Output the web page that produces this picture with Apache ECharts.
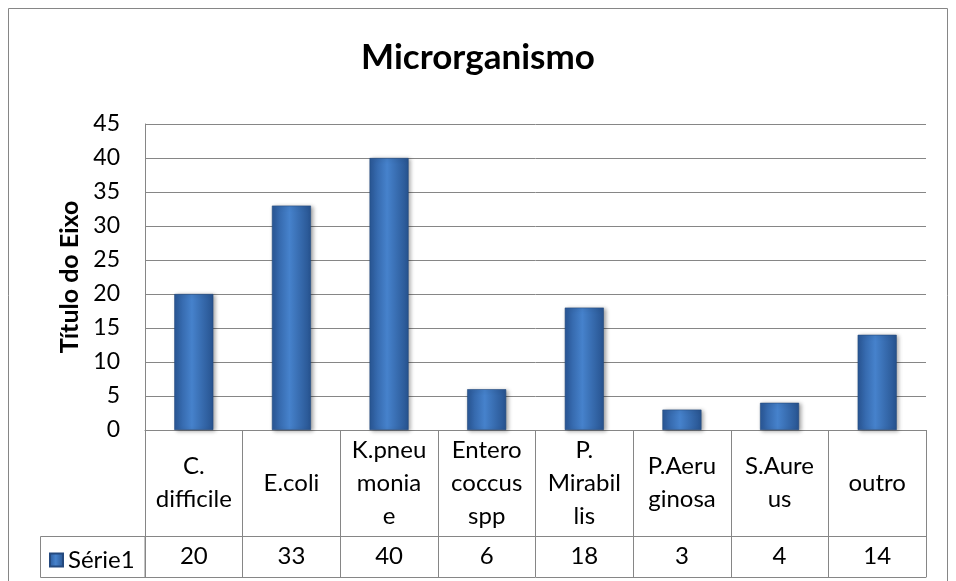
<!DOCTYPE html>
<html>
<head>
<meta charset="utf-8">
<script src="https://cdn.jsdelivr.net/npm/echarts@6/dist/echarts.min.js"></script>
<style>
  html, body { margin: 0; padding: 0; background: #fff; }
  #chart { width: 956px; height: 581px; }
</style>
</head>
<body>
<div id="chart"></div>
<script>
// rótulos das categorias (quebrados como na tabela de dados do Excel)
const categories = ['C.\ndifficile', 'E.coli', 'K.pneu\nmonia\ne', 'Entero\ncoccus\nspp',
  'P.\nMirabil\nlis', 'P.Aeru\nginosa', 'S.Aure\nus', 'outro'];
const serie1 = [20, 33, 40, 6, 18, 3, 4, 14];
const yTicks = { min: 0, max: 45, interval: 5 };

const FONT = 'Lato, "Liberation Sans", sans-serif';
const LINE = '#868686';

const barColor = new echarts.graphic.LinearGradient(0, 0, 1, 0, [
  { offset: 0, color: '#2a5898' },
  { offset: 0.45, color: '#4682cc' },
  { offset: 1, color: '#27538f' }
]);

const chart = echarts.init(document.getElementById('chart'));

chart.setOption({
  backgroundColor: '#fff',
  animation: false,
  textStyle: { fontFamily: FONT },
  title: {
    text: 'Microrganismo',
    left: 'center',
    top: 35,
    textStyle: { fontFamily: FONT, fontSize: 35, fontWeight: 'bold', color: '#000' }
  },
  legend: {
    data: ['Série1'],
    left: 44,
    top: 543,
    icon: 'rect',
    itemWidth: 13,
    itemHeight: 13,
    itemGap: 4,
    textStyle: { fontFamily: FONT, fontSize: 24, color: '#000' }
  },
  grid: { left: 145, right: 30, top: 124, bottom: 151 },
  xAxis: [
    {
      type: 'category',
      data: categories,
      axisLine: { lineStyle: { color: LINE } },
      axisTick: { show: true, interval: 0, length: 147, lineStyle: { color: LINE } },
      axisLabel: {
        interval: 0, margin: 53, verticalAlign: 'middle', align: 'center',
        fontSize: 24, lineHeight: 33, color: '#000', fontFamily: FONT
      }
    },
    {
      // linha de valores da tabela de dados
      type: 'category',
      data: categories,
      position: 'bottom',
      offset: 106,
      axisLine: { show: true, lineStyle: { color: LINE } },
      axisTick: { show: false },
      axisLabel: {
        interval: 0, margin: 20, verticalAlign: 'middle',
        fontSize: 24, color: '#000', fontFamily: FONT,
        formatter: (v, i) => String(serie1[i])
      }
    },
    {
      type: 'category',
      data: categories,
      position: 'bottom',
      offset: 147,
      axisLine: { show: true, lineStyle: { color: LINE } },
      axisTick: { show: false },
      axisLabel: { show: false }
    }
  ],
  yAxis: {
    type: 'value',
    min: yTicks.min,
    max: yTicks.max,
    interval: yTicks.interval,
    name: 'Título do Eixo',
    nameLocation: 'middle',
    nameGap: 62,
    nameTextStyle: { fontFamily: FONT, fontSize: 25, fontWeight: 'bold', color: '#000' },
    axisLine: { show: true, lineStyle: { color: LINE } },
    axisTick: { show: false },
    axisLabel: { margin: 25, fontSize: 23, color: '#000', fontFamily: FONT },
    splitLine: { lineStyle: { color: LINE } }
  },
  series: [{
    name: 'Série1',
    type: 'bar',
    data: serie1,
    barWidth: '40%',
    itemStyle: {
      color: barColor,
      borderColor: '#24497e',
      borderWidth: 0.6,
      shadowColor: 'rgba(0,0,0,0.35)',
      shadowBlur: 4,
      shadowOffsetX: 2,
      shadowOffsetY: 1
    }
  }],
  graphic: [
    {
      type: 'rect',
      shape: { x: 8.5, y: 8.5, width: 939, height: 600 },
      style: { fill: 'none', stroke: LINE, lineWidth: 1 },
      silent: true
    },
    {
      type: 'rect',
      shape: { x: 40.5, y: 536.5, width: 104.5, height: 41 },
      style: { fill: 'none', stroke: LINE, lineWidth: 1 },
      silent: true
    }
  ]
});
</script>
</body>
</html>
